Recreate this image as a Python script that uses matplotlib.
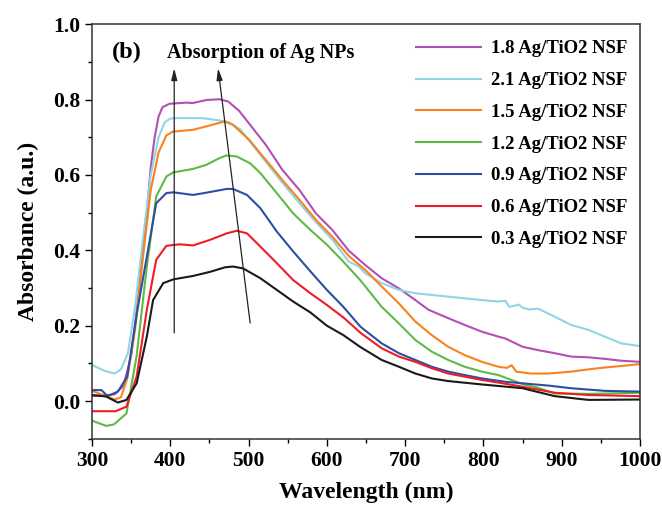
import matplotlib
matplotlib.use("Agg")
import matplotlib.pyplot as plt

# ---------------- data ----------------
wl_18 = [300, 315, 329, 340, 350, 360, 365, 370, 375, 380, 385, 390, 399, 420, 429, 446, 463, 474,
         488, 505, 522, 543, 565, 586, 607, 628, 649, 670, 692, 713, 730, 755, 776, 798, 819, 828,
         850, 870, 891, 912, 934, 955, 976, 1000]
ab_18 = [0.013, 0.015, 0.018, 0.04, 0.12, 0.29, 0.40, 0.50, 0.62, 0.70, 0.755, 0.78, 0.789, 0.792,
         0.791, 0.799, 0.801, 0.795, 0.77, 0.725, 0.68, 0.614, 0.56, 0.498, 0.454, 0.399, 0.361,
         0.326, 0.299, 0.268, 0.242, 0.22, 0.202, 0.184, 0.171, 0.166, 0.144, 0.135, 0.127, 0.118,
         0.116, 0.112, 0.107, 0.104]

wl_21 = [300, 316, 329, 337, 346, 355, 365, 375, 385, 393, 400, 410, 440, 462, 475, 490, 501, 522,
         543, 565, 586, 607, 628, 641, 649, 670, 692, 713, 755, 798, 819, 828, 833, 838, 845, 850,
         858, 870, 891, 912, 934, 955, 976, 1000]
ab_21 = [0.096, 0.08, 0.073, 0.084, 0.128, 0.25, 0.43, 0.60, 0.70, 0.74, 0.75, 0.751, 0.751, 0.745,
         0.74, 0.72, 0.69, 0.635, 0.58, 0.525, 0.475, 0.428, 0.37, 0.357, 0.339, 0.313, 0.295,
         0.286, 0.277, 0.268, 0.264, 0.266, 0.25, 0.252, 0.256, 0.248, 0.243, 0.245, 0.224, 0.202,
         0.189, 0.171, 0.153, 0.146]

wl_15 = [300, 315, 329, 337, 345, 355, 365, 375, 385, 395, 403, 429, 446, 469, 480, 501, 522, 543,
         565, 586, 607, 628, 649, 670, 692, 713, 734, 755, 776, 798, 819, 830, 836, 842, 860, 883,
         912, 934, 955, 976, 1000]
ab_15 = [0.027, 0.015, 0.004, 0.01, 0.06, 0.19, 0.38, 0.56, 0.66, 0.705, 0.715, 0.72, 0.729, 0.742,
         0.733, 0.693, 0.64, 0.587, 0.534, 0.481, 0.436, 0.385, 0.348, 0.304, 0.259, 0.211, 0.175,
         0.144, 0.122, 0.104, 0.091, 0.088, 0.095, 0.078, 0.073, 0.073, 0.078, 0.084, 0.089, 0.093,
         0.098]

wl_12 = [300, 318, 328, 344, 357, 370, 382, 395, 404, 429, 446, 463, 472, 485, 502, 515, 536, 557,
         579, 600, 621, 643, 670, 692, 713, 734, 755, 776, 798, 819, 850, 870, 891, 934, 1000]
ab_12 = [-0.052, -0.066, -0.062, -0.033, 0.12, 0.357, 0.543, 0.596, 0.607, 0.616, 0.627, 0.645,
         0.652, 0.649, 0.631, 0.605, 0.552, 0.498, 0.454, 0.415, 0.37, 0.32, 0.25, 0.206, 0.162,
         0.131, 0.109, 0.091, 0.078, 0.069, 0.045, 0.035, 0.02, 0.019, 0.022]

wl_09 = [300, 312, 320, 333, 345, 358, 370, 382, 395, 404, 429, 446, 472, 480, 498, 515, 536, 557,
         579, 600, 621, 643, 670, 692, 713, 734, 755, 776, 798, 828, 850, 883, 912, 955, 1000]
ab_09 = [0.029, 0.029, 0.013, 0.025, 0.065, 0.242, 0.383, 0.525, 0.552, 0.554, 0.547, 0.553, 0.563,
         0.563, 0.547, 0.512, 0.45, 0.397, 0.344, 0.295, 0.25, 0.197, 0.153, 0.127, 0.109, 0.091,
         0.078, 0.069, 0.06, 0.051, 0.047, 0.041, 0.034, 0.027, 0.025]

wl_06 = [300, 330, 344, 357, 370, 382, 395, 412, 429, 451, 472, 485, 498, 515, 536, 557, 579, 600,
         621, 643, 670, 692, 713, 734, 755, 798, 819, 850, 891, 934, 1000]
ab_06 = [-0.027, -0.027, -0.015, 0.065, 0.242, 0.375, 0.412, 0.416, 0.413, 0.428, 0.445, 0.452,
         0.445, 0.41, 0.366, 0.321, 0.286, 0.255, 0.222, 0.181, 0.14, 0.118, 0.104, 0.087, 0.073,
         0.056, 0.049, 0.038, 0.022, 0.016, 0.013]

wl_03 = [300, 318, 333, 344, 357, 370, 378, 391, 404, 429, 451, 470, 480, 493, 515, 536, 557, 579,
         600, 621, 643, 670, 692, 713, 734, 755, 798, 819, 850, 891, 934, 1000]
ab_03 = [0.016, 0.012, -0.004, 0.003, 0.047, 0.171, 0.268, 0.313, 0.323, 0.332, 0.343, 0.355, 0.357,
         0.352, 0.326, 0.295, 0.264, 0.235, 0.2, 0.175, 0.143, 0.109, 0.091, 0.073, 0.06, 0.053,
         0.044, 0.04, 0.034, 0.013, 0.003, 0.004]

labels = ["1.8 Ag/TiO2 NSF", "2.1 Ag/TiO2 NSF", "1.5 Ag/TiO2 NSF", "1.2 Ag/TiO2 NSF",
          "0.9 Ag/TiO2 NSF", "0.6 Ag/TiO2 NSF", "0.3 Ag/TiO2 NSF"]
colors = ["#B24FB2", "#8ED6E6", "#F7821E", "#5CBB45", "#2E4EA3", "#EE1D25", "#1A1A1A"]
series = [(wl_18, ab_18), (wl_21, ab_21), (wl_15, ab_15), (wl_12, ab_12),
          (wl_09, ab_09), (wl_06, ab_06), (wl_03, ab_03)]

xticks = [300, 400, 500, 600, 700, 800, 900, 1000]
yticks = [0.0, 0.2, 0.4, 0.6, 0.8, 1.0]

# ---------------- figure ----------------
plt.rcParams['font.family'] = ['Liberation Serif', 'DejaVu Serif']
plt.rcParams['font.weight'] = 'bold'

fig = plt.figure(figsize=(6.62, 5.08), dpi=100)
ax = fig.add_axes([0.139, 0.1364, 0.8278, 0.8158])

for (w, a), lab, c in zip(series, labels, colors):
    ax.plot(w, a, color=c, lw=1.5, label=lab)

ax.set_xlim(300, 1000)
ax.set_ylim(-0.1, 1.0)
ax.set_xticks(xticks)
ax.set_yticks(yticks)
ax.set_yticklabels([f"{v:.1f}" for v in yticks])
ax.set_xticks(range(350, 1000, 100), minor=True)
ax.set_yticks([-0.1, 0.1, 0.3, 0.5, 0.7, 0.9], minor=True)
ax.tick_params(which='both', direction='out', top=False, right=False, width=1.0)
ax.tick_params(which='major', length=5, labelsize=15.5)
ax.tick_params(which='minor', length=3)
for s in ax.spines.values():
    s.set_linewidth(1.1)
    s.set_color('#333333')

ax.set_xlabel("Wavelength (nm)", fontsize=17, fontweight='bold', labelpad=8)
ax.set_ylabel("Absorbance (a.u.)", fontsize=17, fontweight='bold', labelpad=10)

leg = ax.legend(loc='upper right', bbox_to_anchor=(1.0, 0.993), frameon=False,
                fontsize=13.5, handlelength=3.5, handletextpad=0.5, labelspacing=0.78,
                borderaxespad=0.3)

ax.text(0.036, 0.931, "(b)", transform=ax.transAxes, fontsize=17.5, fontweight='bold',
        va='center', ha='left')
ax.text(0.136, 0.931, "Absorption of Ag NPs", transform=ax.transAxes, fontsize=14.5,
        fontweight='bold', va='center', ha='left')

arrow_kw = dict(arrowstyle='-|>,head_length=0.7,head_width=0.18', color='#222222', lw=0.9,
                shrinkA=0, shrinkB=0)
ax.annotate("", xy=(405, 0.883), xytext=(405, 0.181), arrowprops=arrow_kw)
ax.annotate("", xy=(461, 0.883), xytext=(502, 0.207), arrowprops=arrow_kw)

fig.savefig("out.png", dpi=100)
